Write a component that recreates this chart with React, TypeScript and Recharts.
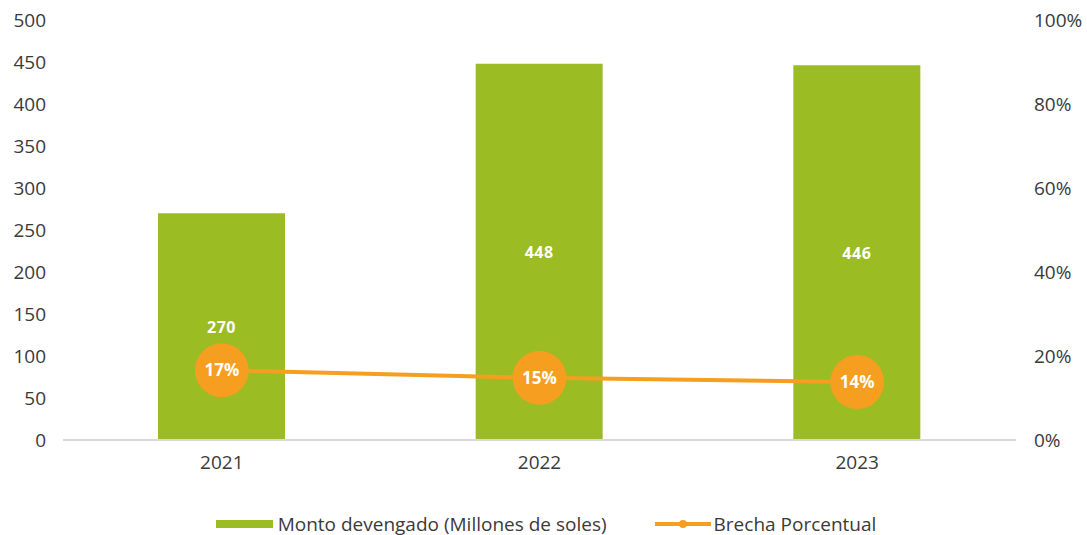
import React from 'react';
import { ComposedChart, Bar, Line, XAxis, YAxis, LabelList, Legend } from 'recharts';

const years = ['2021', '2022', '2023'];
const montoDevengado = [270, 448, 446];
const brechaPorcentual = [0.166, 0.148, 0.138];
const leftTicks = [0, 50, 100, 150, 200, 250, 300, 350, 400, 450, 500];
const rightTicks = [0, 0.2, 0.4, 0.6, 0.8, 1];

const data = years.map((y, i) => ({ year: y, monto: montoDevengado[i], brecha: brechaPorcentual[i] }));

const GREEN = '#9BBC22';
const ORANGE = '#F59E20';
const FONT = '"Open Sans", sans-serif';
const TEXT = '#3a3a3a';
const TICK = { fill: TEXT, fontSize: 19, fontFamily: FONT };

const PctDot = (props: any) => {
  const { cx, cy } = props;
  if (cx == null || cy == null) return null;
  return <circle cx={cx} cy={cy} r={27} fill={ORANGE} stroke="none" />;
};

const PctLabel = (props: any) => {
  const { x, y, value } = props;
  return (
    <text x={x} y={y} dy={6} textAnchor="middle" fill="#fff" fontWeight="bold" fontSize={17} fontFamily={FONT}>
      {Math.round(value * 100)}%
    </text>
  );
};

const BarLabel = (props: any) => {
  const { x, y, width, height, value } = props;
  return (
    <text x={x + width / 2} y={y + height / 2} dy={6} textAnchor="middle" fill="#fff" fontWeight="bold" fontSize={16} fontFamily={FONT} letterSpacing={0.5}>
      {value}
    </text>
  );
};

const LegendContent = () => (
  <div style={{ display: 'flex', justifyContent: 'center', alignItems: 'center', fontFamily: FONT, fontSize: 19, color: TEXT, height: 30, paddingLeft: 5, whiteSpace: 'nowrap' }}>
    <svg width={57} height={10} style={{ marginRight: 5 }}>
      <rect x={0} y={1} width={57} height={8} fill={GREEN} />
    </svg>
    <span>Monto devengado (Millones de soles)</span>
    <svg width={56} height={10} style={{ marginLeft: 48, marginRight: 3 }}>
      <line x1={0} y1={5} x2={56} y2={5} stroke={ORANGE} strokeWidth={4} />
      <circle cx={28} cy={5} r={4} fill={ORANGE} />
    </svg>
    <span>Brecha Porcentual</span>
  </div>
);

export default function App() {
  return (
    <div style={{ position: 'absolute', left: 0, top: 0, width: 1087, height: 535, background: '#fff' }}>
      <ComposedChart width={1087} height={535} data={data} margin={{ top: 20, right: 0, left: 0, bottom: 25 }}>
        <XAxis dataKey="year" axisLine={{ stroke: '#d9d9d9', strokeWidth: 2 }} tickLine={false} tick={TICK} tickMargin={10} height={40} />
        <YAxis yAxisId="left" domain={[0, 500]} ticks={leftTicks} axisLine={false} tickLine={false} tick={TICK} tickMargin={11} width={63} interval={0} />
        <YAxis yAxisId="right" orientation="right" domain={[0, 1]} ticks={rightTicks} axisLine={false} tickLine={false} tick={{ ...TICK, textAnchor: 'start' }} tickMargin={12} width={71} interval={0} tickFormatter={(v: number) => `${Math.round(v * 100)}%`} />
        <Legend verticalAlign="bottom" content={<LegendContent />} wrapperStyle={{ top: 509, bottom: 'auto', height: 30 }} />
        <Bar yAxisId="left" dataKey="monto" fill={GREEN} barSize={127} isAnimationActive={false}>
          <LabelList dataKey="monto" content={<BarLabel />} />
        </Bar>
        <Line yAxisId="right" dataKey="brecha" stroke={ORANGE} strokeWidth={4} dot={<PctDot />} activeDot={false} isAnimationActive={false}>
          <LabelList dataKey="brecha" content={<PctLabel />} />
        </Line>
      </ComposedChart>
    </div>
  );
}
